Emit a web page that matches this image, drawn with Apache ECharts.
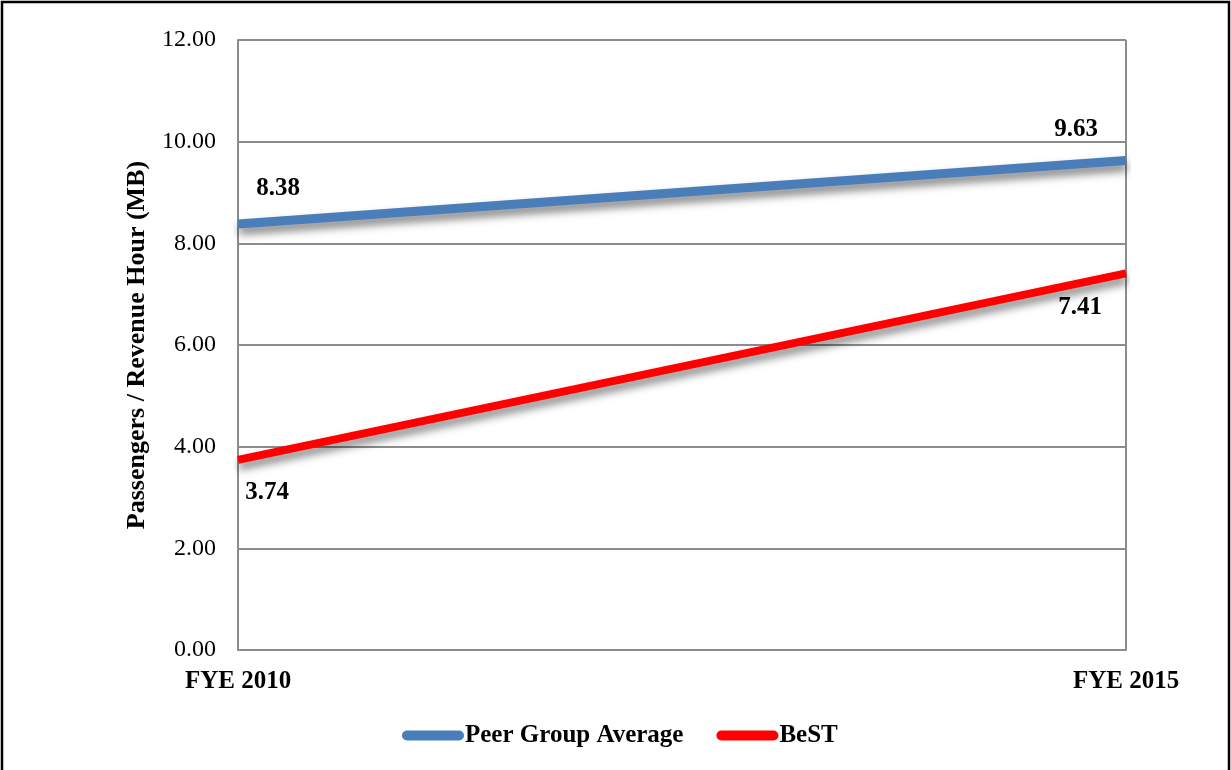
<!DOCTYPE html>
<html>
<head>
<meta charset="utf-8">
<script src="https://cdn.jsdelivr.net/npm/echarts@6/dist/echarts.min.js"></script>
<style>
html,body{margin:0;padding:0;background:#fff;}
#c{width:1231px;height:770px;}
</style>
</head>
<body>
<div id="c"></div>
<script>
var categories = ['FYE 2010', 'FYE 2015'];
var peerValues = [8.38, 9.63];
var bestValues = [3.74, 7.41];
var yTicks = [0, 2, 4, 6, 8, 10, 12];
var seriesNames = ['Peer Group Average', 'BeST'];

var FONT = '"Liberation Serif", "DejaVu Serif", serif';
var chart = echarts.init(document.getElementById('c'));

function mkLabels(values, cfgs) {
  return values.map(function (v, i) {
    return { value: v, label: cfgs[i] };
  });
}
var lbl = { show: true, fontFamily: FONT, fontSize: 25, fontWeight: 'bold', color: '#000', formatter: function (p) { return p.value.toFixed(2); } };

chart.setOption({
  animation: false,
  backgroundColor: '#fff',
  graphic: [{
    type: 'rect', shape: { x: 2, y: 2, width: 1227, height: 820 },
    style: { fill: 'none', stroke: '#000', lineWidth: 2.5 }, silent: true, z: 100
  }],
  grid: { left: 238, top: 40, right: 105, bottom: 120 },
  legend: {
    left: 397, top: 718,
    itemWidth: 62, itemHeight: 10, itemGap: 33,
    icon: 'path://M5,0 L57,0 A5,5 0 0 1 57,10 L5,10 A5,5 0 0 1 5,0 Z',
    textStyle: { fontFamily: FONT, fontSize: 25, fontWeight: 'bold', color: '#000', padding: [0, 0, 0, -4] },
    data: seriesNames
  },
  xAxis: {
    type: 'category', data: categories, boundaryGap: false,
    axisLine: { lineStyle: { color: '#8c8c8c', width: 2 } },
    axisTick: { show: false },
    splitLine: { show: true, lineStyle: { color: '#8c8c8c', width: 2 } },
    axisLabel: { fontFamily: FONT, fontSize: 25, fontWeight: 'bold', color: '#000', margin: 19 }
  },
  yAxis: {
    type: 'value', min: yTicks[0], max: yTicks[yTicks.length - 1], interval: 2,
    name: 'Passengers / Revenue Hour (MB)', nameLocation: 'middle', nameGap: 88,
    nameTextStyle: { fontFamily: FONT, fontSize: 26, fontWeight: 'bold', color: '#000' },
    axisLine: { show: true, lineStyle: { color: '#8c8c8c', width: 2 } },
    axisTick: { show: false },
    splitLine: { lineStyle: { color: '#8c8c8c', width: 2 } },
    axisLabel: { fontFamily: FONT, fontSize: 24, color: '#000', margin: 22, formatter: function (v) { return v.toFixed(2); } }
  },
  series: [
    {
      name: seriesNames[0], type: 'line',
      symbol: 'circle', symbolSize: 1, showSymbol: true,
      itemStyle: { color: '#4A7EBB' },
      lineStyle: { color: '#4A7EBB', width: 9, shadowColor: 'rgba(0,0,0,0.5)', shadowBlur: 8, shadowOffsetY: 6, shadowOffsetX: 1 },
      data: mkLabels(peerValues, [
        Object.assign({}, lbl, { position: 'top', offset: [40, -17] }),
        Object.assign({}, lbl, { position: 'top', offset: [-50, -13] })
      ]),
      z: 3
    },
    {
      name: seriesNames[1], type: 'line',
      symbol: 'circle', symbolSize: 1, showSymbol: true,
      itemStyle: { color: '#FF0000' },
      lineStyle: { color: '#FF0000', width: 8, shadowColor: 'rgba(0,0,0,0.5)', shadowBlur: 8, shadowOffsetY: 6, shadowOffsetX: 1 },
      data: mkLabels(bestValues, [
        Object.assign({}, lbl, { position: 'bottom', offset: [29, 15] }),
        Object.assign({}, lbl, { position: 'bottom', offset: [-46, 16] })
      ]),
      z: 3
    }
  ]
});
</script>
</body>
</html>
